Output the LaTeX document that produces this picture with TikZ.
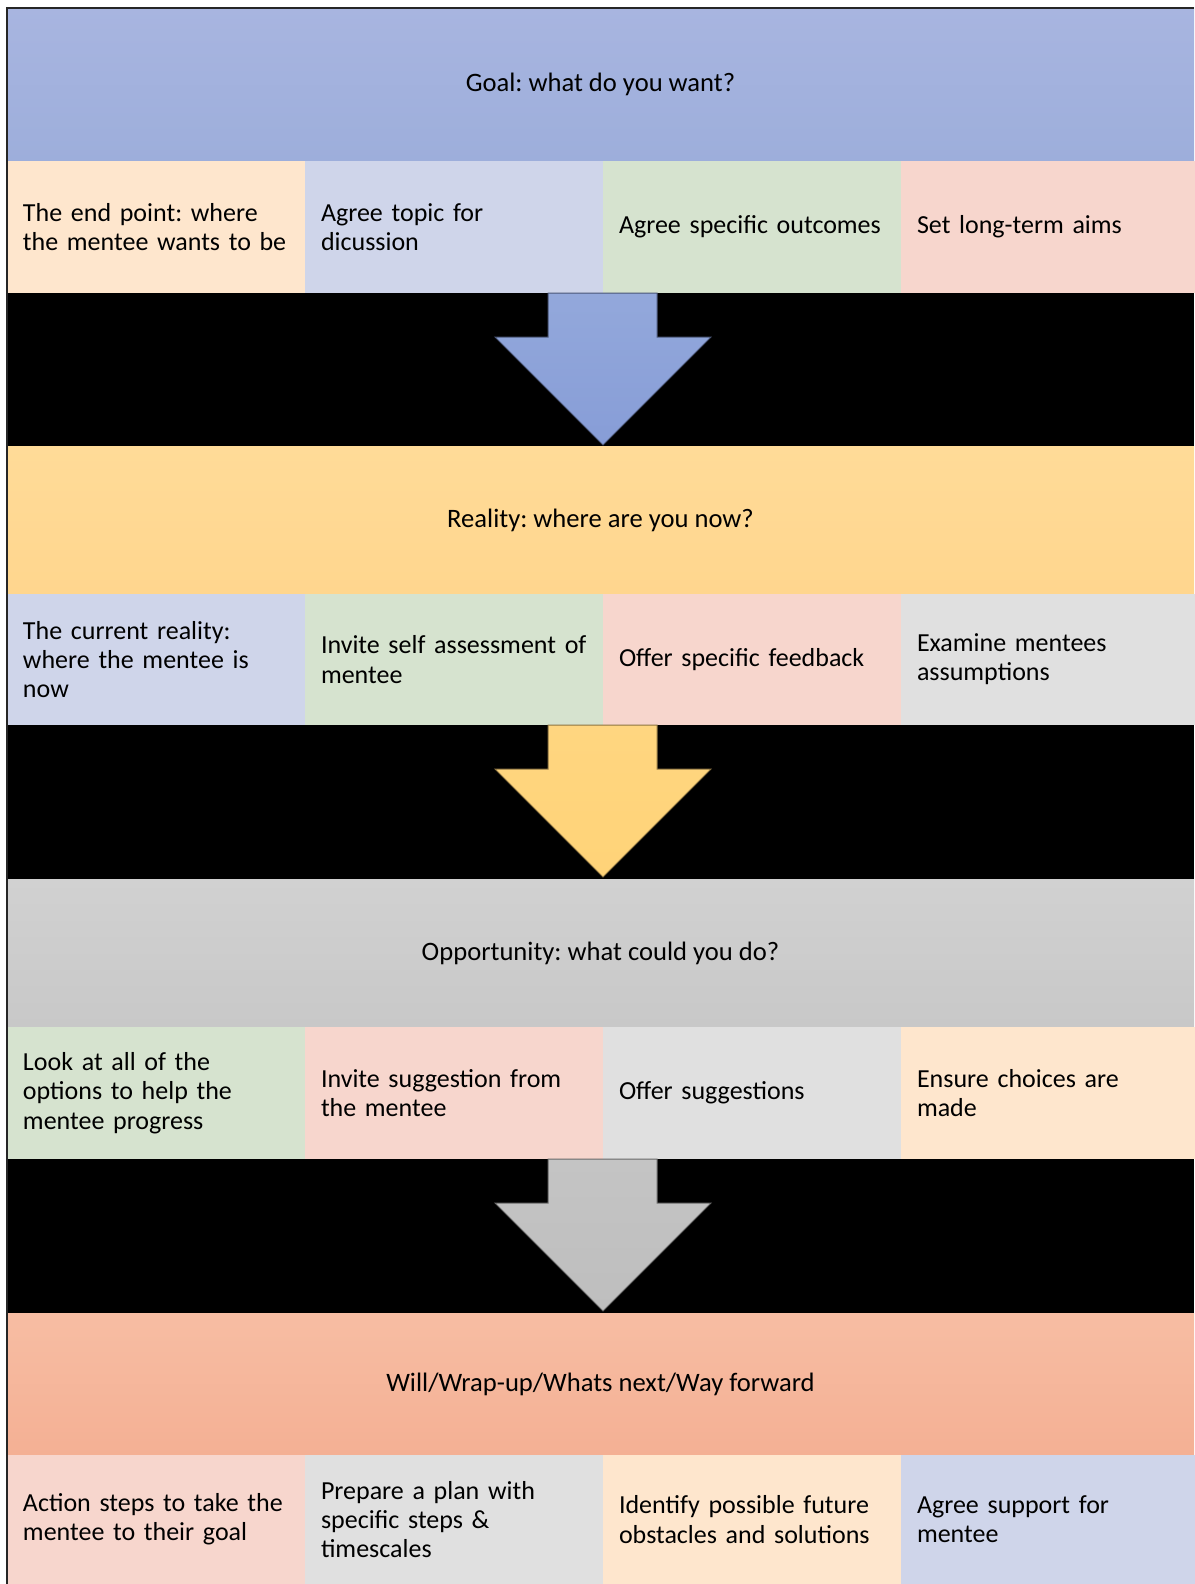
\documentclass[tikz,border=0pt]{standalone}
\usepackage{fontspec}
\setmainfont{Carlito}
\frenchspacing
\usetikzlibrary{positioning,calc}
\definecolor{goaltop}{RGB}{168,181,224}
\definecolor{goalbot}{RGB}{157,174,219}
\definecolor{realtop}{RGB}{255,219,152}
\definecolor{realbot}{RGB}{255,214,142}
\definecolor{opptop}{RGB}{209,209,209}
\definecolor{oppbot}{RGB}{200,200,200}
\definecolor{willtop}{RGB}{247,189,163}
\definecolor{willbot}{RGB}{244,176,148}
\definecolor{cpeach}{RGB}{254,230,205}
\definecolor{clav}{RGB}{207,213,234}
\definecolor{cgreen}{RGB}{214,227,207}
\definecolor{cpink}{RGB}{247,214,205}
\definecolor{cgrey}{RGB}{224,224,224}
\definecolor{arrbluetop}{RGB}{147,168,219}
\definecolor{arrbluebot}{RGB}{135,157,215}
\definecolor{arryeltop}{RGB}{255,214,128}
\definecolor{arryelbot}{RGB}{255,211,120}
\definecolor{arrgreytop}{RGB}{196,196,196}
\definecolor{arrgreybot}{RGB}{190,190,190}
\tikzset{
	header/.style={
		rectangle,
		anchor=north west,
		minimum width=593.5pt,
		inner sep=0pt,
		outer sep=0pt,
		font=\fontsize{13.3}{14.6}\selectfont,
	},
	cell/.style={
		rectangle,
		anchor=north west,
		text width=133pt,
		align=left,
		inner xsep=8pt,
		inner ysep=0pt,
		outer sep=0pt,
		font=\fontsize{13}{14.6}\selectfont,
	},
	band/.style={
		rectangle,
		fill=black,
		anchor=north west,
		minimum width=593.5pt,
		inner sep=0pt,
		outer sep=0pt,
	},
	flow/.style={
		line width=0.5pt,
		line join=miter,
	},
	frame/.style={
		draw=black!85,
		line width=0.7pt,
	},
}
% block arrow down through a black band
\newcommand{\flowarrow}[3]{%
	\draw[flow,draw=#3!55!black,top color=#2,bottom color=#3]
		($(#1.north)+(-52.5,0)$) -- ($(#1.north)+(56.5,0)$)
		-- ($(#1.north)+(56.5,44)$) -- ($(#1.north)+(110.5,44)$)
		-- ($(#1.north)+(2.5,152)$) -- ($(#1.north)+(-105.5,44)$)
		-- ($(#1.north)+(-52.5,44)$) -- cycle;
}

\begin{document}
\begin{tikzpicture}[x=0.5pt,y=-0.5pt]
	\useasboundingbox (0,0) rectangle (1194,1584);

	% Goal
	\node [header, top color=goaltop, bottom color=goalbot, minimum height=76.5pt] (goal) at (7,8) {Goal: what do you want?};
	\node [cell, fill=cpeach, minimum height=66pt] (g1) at (goal.south west) {The end point: where\\the mentee wants to be};
	\node [cell, fill=clav, minimum height=66pt, right=0pt of g1] (g2) {Agree topic for\\dicussion};
	\node [cell, fill=cgreen, minimum height=66pt, right=0pt of g2] (g3) {Agree specific outcomes};
	\node [cell, fill=cpink, minimum height=66pt, right=0pt of g3] (g4) {Set long-term aims};
	\node [band, minimum height=76.5pt] (b1) at (g1.south west) {};

	% Reality
	\node [header, top color=realtop, bottom color=realbot, minimum height=74pt] (real) at (b1.south west) {Reality: where are you now?};
	\node [cell, fill=clav, minimum height=65.5pt] (r1) at (real.south west) {The current reality:\\where the mentee is\\now};
	\node [cell, fill=cgreen, minimum height=65.5pt, right=0pt of r1] (r2) {Invite self assessment of\\mentee};
	\node [cell, fill=cpink, minimum height=65.5pt, right=0pt of r2] (r3) {Offer specific feedback};
	\node [cell, fill=cgrey, minimum height=65.5pt, right=0pt of r3] (r4) {Examine mentees\\assumptions};
	\node [band, minimum height=77pt] (b2) at (r1.south west) {};

	% Opportunity
	\node [header, top color=opptop, bottom color=oppbot, minimum height=74pt] (opp) at (b2.south west) {Opportunity: what could you do?};
	\node [cell, fill=cgreen, minimum height=66pt] (o1) at (opp.south west) {Look at all of the\\options to help the\\mentee progress};
	\node [cell, fill=cpink, minimum height=66pt, right=0pt of o1] (o2) {Invite suggestion from\\the mentee};
	\node [cell, fill=cgrey, minimum height=66pt, right=0pt of o2] (o3) {Offer suggestions};
	\node [cell, fill=cpeach, minimum height=66pt, right=0pt of o3] (o4) {Ensure choices are\\made};
	\node [band, minimum height=77pt] (b3) at (o1.south west) {};

	% Will
	\node [header, top color=willtop, bottom color=willbot, minimum height=71pt] (will) at (b3.south west) {Will/Wrap-up/Whats next/Way forward};
	\node [cell, fill=cpink, minimum height=64.5pt] (w1) at (will.south west) {Action steps to take the\\mentee to their goal};
	\node [cell, fill=cgrey, minimum height=64.5pt, right=0pt of w1] (w2) {Prepare a plan with\\specific steps \&\\timescales};
	\node [cell, fill=cpeach, minimum height=64.5pt, right=0pt of w2] (w3) {Identify possible future\\obstacles and solutions};
	\node [cell, fill=clav, minimum height=64.5pt, right=0pt of w3] (w4) {Agree support for\\mentee};

	\flowarrow{b1}{arrbluetop}{arrbluebot}
	\flowarrow{b2}{arryeltop}{arryelbot}
	\flowarrow{b3}{arrgreytop}{arrgreybot}

	\draw[frame] (w1.south west) -- (goal.north west) -- (goal.north east);
\end{tikzpicture}
\end{document}
